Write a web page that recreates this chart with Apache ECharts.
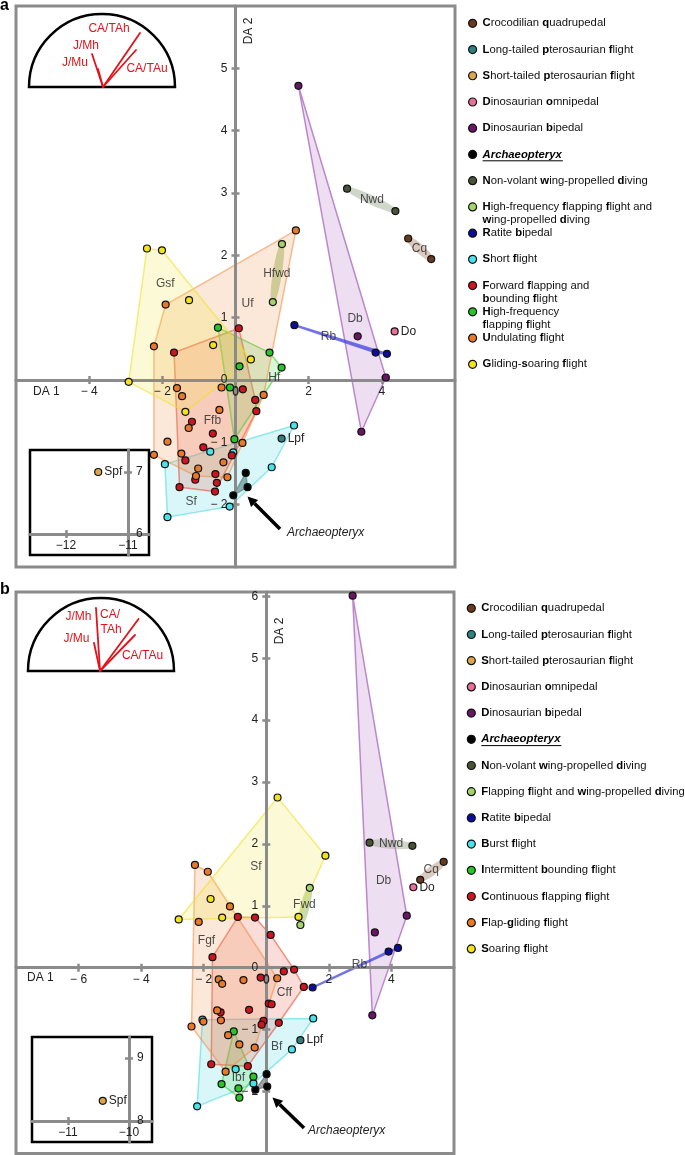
<!DOCTYPE html>
<html><head><meta charset="utf-8"><title>DA plots</title>
<script src="https://cdn.jsdelivr.net/npm/echarts@6/dist/echarts.min.js"></script>
<style>html,body{margin:0;padding:0;background:#fff}#c{width:685px;height:1155px}</style>
</head><body><div id="c"></div>
<script>
const FONT = '"Liberation Sans", Arial, Helvetica, sans-serif';
const GRAY = '#8b8b8b';
const LABEL = '#222';

// ---------- tick labels ----------
const ticksXA = [-4,-2,0,2,4];
const ticksYA = [-2,-1,0,1,2,3,4,5];
const ticksXB = [-6,-4,-2,0,2,4];
const ticksYB = [-2,-1,0,1,2,3,4,5,6];
const ticksInsetXA = [-12,-11], ticksInsetYA = [6,7];
const ticksInsetXB = [-11,-10], ticksInsetYB = [8,9];

// ---------- legend names / texts ----------
const namesA = ['Crocodilian quadrupedal','Long-tailed pterosaurian flight','Short-tailed pterosaurian flight','Dinosaurian omnipedal','Dinosaurian bipedal','Archaeopteryx','Non-volant wing-propelled diving','High-frequency flapping flight and wing-propelled diving','Ratite bipedal','Short flight','Forward flapping and bounding flight','High-frequency flapping flight','Undulating flight','Gliding-soaring flight'];
const legendA = ['*Crocodilian *quadrupedal','*Long-tailed *pterosaurian *flight','*Short-tailed *pterosaurian *flight','*Dinosaurian *omnipedal','*Dinosaurian *bipedal','{i|Archaeopteryx}','*Non-volant *wing-propelled *diving','*High-frequency *flapping *flight and\n*wing-propelled *diving','*Ratite *bipedal','*Short *flight','*Forward *flapping and\n*bounding *flight','*High-frequency\n*flapping *flight','*Undulating *flight','*Gliding-*soaring *flight'];
const abbrA = ['Cq','Lpf','Spf','Do','Db','Arch','Nwd','Hfwd','Rb','Sf','Ffb','Hf','Uf','Gsf'];

const namesB = ['Crocodilian quadrupedal','Long-tailed pterosaurian flight','Short-tailed pterosaurian flight','Dinosaurian omnipedal','Dinosaurian bipedal','Archaeopteryx','Non-volant wing-propelled diving','Flapping flight and wing-propelled diving','Ratite bipedal','Burst flight','Intermittent bounding flight','Continuous flapping flight','Flap-gliding flight','Soaring flight'];
const legendB = ['*Crocodilian *quadrupedal','*Long-tailed *pterosaurian *flight','*Short-tailed *pterosaurian *flight','*Dinosaurian *omnipedal','*Dinosaurian *bipedal','{i|Archaeopteryx}','*Non-volant *wing-propelled *diving','*Flapping *flight and *wing-propelled *diving','*Ratite *bipedal','*Burst *flight','*Intermittent *bounding *flight','*Continuous *flapping *flight','*Flap-*gliding *flight','*Soaring *flight'];
const abbrB = ['Cq','Lpf','Spf','Do','Db','Arch','Nwd','Fwd','Rb','Bf','Ibf','Cff','Fgf','Sf'];

const colorsA = ['#6b3a1e','#2f8080','#dba64c','#e5709a','#6b1567','#000000','#4b5336','#a3d46a','#0c0c9e','#48e2e8','#cd1520','#26c626','#e8792b','#f3e31c'];
const colorsB = ['#6b3a1e','#2f8080','#dba64c','#e5709a','#6b1567','#000000','#4b5336','#a3d46a','#0c0c9e','#48e2e8','#26c626','#cd1520','#e8792b','#f3e31c'];
const hullA = ['#a07a5a',null,null,null,'#a45cb8','#5a6868','#9aa38a','#8fb85a','#3a3ae0','#3fd8e0','#e8503a','#3ad03a','#f08a40','#f0e030'];
const hullB = ['#a07a5a',null,null,null,'#a45cb8','#5a6868','#9aa38a','#8fb85a','#3a3ae0','#3fd8e0','#3ad03a','#e8503a','#f08a40','#f0e030'];
const hullFillAlpha   = [0.4,0,0,0,0.2,0.6,0.45,0.5,0.12,0.2,0.2,0.2,0.2,0.2];
const hullStrokeAlpha = [0,0,0,0,0.7,0.6,0,0,0.7,0.55,0.6,0.6,0.55,0.6];

// ---------- panel a points (DA 1, DA 2) ----------
const a_Cq   = [[4.72,2.27],[5.35,1.94]];
const a_Lpf  = [[1.26,-0.94]];
const a_Spf  = [[-11.48,7.00]];
const a_Do   = [[4.35,0.78]];
const a_Db   = [[1.72,4.72],[3.34,0.70],[4.11,0.04],[3.44,-0.83]];
const a_Arch = [[0.28,-1.49],[0.33,-1.72],[-0.06,-1.85]];
const a_Nwd  = [[3.05,3.07],[4.37,2.71]];
const a_Hfwd = [[1.27,2.18],[1.02,1.25]];
const a_Rb   = [[1.61,0.88],[3.83,0.44],[4.14,0.42]];
const a_Sf   = [[1.60,-0.73],[-0.69,-1.15],[-0.06,-1.16],[-1.93,-1.35],[0.99,-1.40],[-0.16,-2.03],[-1.86,-2.20]];
const a_Ffb  = [[-1.68,0.44],[0.09,0.83],[0.20,-0.15],[0.54,-0.32],[0.57,-0.50],[-1.19,-0.67],[-0.62,-0.86],[-0.88,-1.08],[-0.10,-1.21],[-1.37,-1.29],[-0.55,-1.51],[-1.10,-1.60],[-0.51,-1.65],[-1.53,-1.72],[-0.56,-1.79]];
const a_Hf   = [[-0.48,0.84],[0.93,0.44],[1.26,0.20],[0.11,0.22],[-0.15,-0.12],[-0.03,-0.95]];
const a_Uf   = [[1.65,2.40],[-1.91,1.21],[-2.23,0.54],[-1.60,-0.13],[-1.46,-0.26],[-0.38,-0.12],[0.77,-0.24],[-0.44,-0.48],[-1.28,-0.77],[-1.86,-0.99],[0.19,-1.01],[-2.23,-1.20],[-1.48,-1.18],[-0.33,-1.32],[-1.02,-1.42],[-1.08,-1.54],[-0.22,-1.56]];
const a_Gsf  = [[-2.42,2.11],[-2.01,2.08],[-1.27,1.28],[-0.61,0.56],[0.42,0.33],[-2.92,-0.03],[-1.37,-0.51]];
const groupsA = [a_Cq,a_Lpf,a_Spf,a_Do,a_Db,a_Arch,a_Nwd,a_Hfwd,a_Rb,a_Sf,a_Ffb,a_Hf,a_Uf,a_Gsf];

// ---------- panel b points ----------
const b_Cq   = [[4.92,1.42],[5.67,1.71]];
const b_Lpf  = [[1.09,-1.17]];
const b_Spf  = [[-10.43,8.32]];
const b_Do   = [[4.70,1.30]];
const b_Db   = [[2.76,6.01],[3.47,0.57],[4.49,0.84],[3.39,-0.77]];
const b_Arch = [[0.01,-1.72],[-0.35,-1.97],[0.03,-1.92]];
const b_Nwd  = [[3.30,2.02],[4.67,1.97]];
const b_Fwd  = [[1.39,1.29],[1.09,0.69]];
const b_Rb   = [[1.48,-0.32],[3.91,0.26],[4.21,0.32]];
const b_Bf   = [[-2.04,-0.84],[1.50,-0.82],[0.82,-1.32],[-0.98,-1.64],[-0.41,-1.87],[-2.21,-2.24]];
const b_Ibf  = [[-1.04,-1.03],[-0.41,-1.76],[-1.43,-1.88],[-0.89,-1.95],[-0.86,-2.10]];
const b_Cff  = [[-0.91,0.82],[-0.36,0.81],[0.14,0.53],[-1.72,0.17],[0.89,-0.03],[1.20,-0.31],[-0.18,-0.16],[0.56,-0.06],[0.08,-0.58],[0.17,-0.59],[-1.46,-0.72],[-0.55,-0.68],[-0.09,-0.86],[-0.15,-0.92],[0.40,-0.89],[-1.76,-1.56],[-0.59,-1.59]];
const b_Fgf  = [[-2.28,1.66],[-1.87,1.55],[-1.16,0.99],[-2.16,0.74],[-1.52,-0.19],[-1.41,-0.26],[-0.73,-0.20],[0.35,-0.17],[-1.57,-0.69],[-2.01,-0.87],[-1.45,-0.85],[-2.39,-0.95],[-1.22,-1.09],[-0.86,-1.24],[-0.37,-1.29],[-1.30,-1.68]];
const b_Sf   = [[0.36,2.75],[1.89,1.81],[1.03,0.82],[-2.80,0.78],[-1.78,1.11],[-1.41,0.81]];
const groupsB = [b_Cq,b_Lpf,b_Spf,b_Do,b_Db,b_Arch,b_Nwd,b_Fwd,b_Rb,b_Bf,b_Ibf,b_Cff,b_Fgf,b_Sf];

// ---------- group annotations (label, DA1, DA2) ----------
const annotA = [['Gsf',-1.92,1.54],['Uf',0.33,1.22],['Hfwd',1.13,1.71],['Hf',1.06,0.03],['Ffb',-0.63,-0.65],['Sf',-1.21,-1.95],['Db',3.27,0.99],['Rb',2.54,0.69],['Nwd',3.73,2.90],['Cq',5.03,2.11]];
const annotB = [['Sf',-0.33,1.64],['Fwd',1.22,1.02],['Fgf',-1.91,0.43],['Cff',0.58,-0.40],['Bf',0.33,-1.28],['Ibf',-0.89,-1.78],['Nwd',3.99,2.00],['Cq',5.27,1.59],['Db',3.75,1.40],['Rb',2.98,0.05]];

// ---------- helpers ----------
function rgba(hex, a){ const n=parseInt(hex.slice(1),16); return 'rgba('+(n>>16&255)+','+(n>>8&255)+','+(n&255)+','+a+')'; }
function rich(s){ return s.replace(/\*(.)/g,'{b|$1}'); }
function fmtMain(v){ const r=Math.round(v*100)/100; return r<0 ? '\u2212 '+(-r) : String(r); }
function fmtInset(v){ const r=Math.round(v*100)/100; return r<0 ? '\u2212'+(-r) : String(r); }
function convexHull(P){
  const p=P.slice().sort((a,b)=>a[0]-b[0]||a[1]-b[1]);
  const cr=(o,a,b)=>(a[0]-o[0])*(b[1]-o[1])-(a[1]-o[1])*(b[0]-o[0]);
  const lo=[],up=[];
  for(const q of p){ while(lo.length>=2&&cr(lo[lo.length-2],lo[lo.length-1],q)<=0) lo.pop(); lo.push(q); }
  for(let k=p.length-1;k>=0;k--){ const q=p[k]; while(up.length>=2&&cr(up[up.length-2],up[up.length-1],q)<=0) up.pop(); up.push(q); }
  up.pop(); lo.pop(); return lo.concat(up);
}
function ellipse(p1,p2){
  const cx=(p1[0]+p2[0])/2, cy=(p1[1]+p2[1])/2;
  const dx=p2[0]-p1[0], dy=p2[1]-p1[1], L=Math.sqrt(dx*dx+dy*dy)||1;
  const ux=dx/L, uy=dy/L, a=L/2+3.5, b=4.6, out=[];
  for(let k=0;k<48;k++){ const t=k/48*Math.PI*2; const ca=a*Math.cos(t), sb=b*Math.sin(t);
    out.push([cx+ca*ux-sb*uy, cy+ca*uy+sb*ux]); }
  return out;
}

const axisLineStyle = {color:GRAY, width:3};
const tickStyle = {color:GRAY, width:2.5};
const labelBase = {fontSize:12, color:LABEL, fontFamily:FONT};

const GA = {left:16, top:6, width:439, height:561};
const GB = {left:16, top:592, width:438, height:561.4};

// axes through the origin, placed with offsets derived from the grid box and range
function mainAxes(grid, G, xmin, xmax, ymin, ymax, xt, yt){
  const zx = G.left + G.width*(0-xmin)/(xmax-xmin);
  const zy = G.top + G.height*(ymax-0)/(ymax-ymin);
  const offB = -(G.top+G.height-zy), offT = -(zy-G.top);
  const offL = -(zx-G.left), offR = -(G.left+G.width-zx);
  const xs = [
    {type:'value', gridIndex:grid, min:xmin, max:xmax, position:'bottom', offset:offB, z:2,
     axisLine:{show:true, onZero:false, lineStyle:axisLineStyle},
     axisTick:{show:true, length:4, lineStyle:tickStyle, customValues:xt},
     axisLabel:Object.assign({show:true, margin:6, hideOverlap:false, customValues:xt, formatter:fmtMain}, labelBase),
     splitLine:{show:false}},
    {type:'value', gridIndex:grid, min:xmin, max:xmax, position:'top', offset:offT, z:2,
     axisLine:{show:false, onZero:false},
     axisTick:{show:true, length:4, lineStyle:tickStyle, customValues:xt},
     axisLabel:{show:false}, splitLine:{show:false}}
  ];
  const ys = [
    {type:'value', gridIndex:grid, min:ymin, max:ymax, position:'left', offset:offL, z:2,
     axisLine:{show:true, onZero:false, lineStyle:axisLineStyle},
     axisTick:{show:true, length:4, lineStyle:tickStyle, customValues:yt},
     axisLabel:Object.assign({show:true, margin:8, hideOverlap:false, customValues:yt, formatter:fmtMain}, labelBase),
     splitLine:{show:false}},
    {type:'value', gridIndex:grid, min:ymin, max:ymax, position:'right', offset:offR, z:2,
     axisLine:{show:false, onZero:false},
     axisTick:{show:true, length:4, lineStyle:tickStyle, customValues:yt},
     axisLabel:{show:false}, splitLine:{show:false}}
  ];
  return {xs, ys};
}
function insetAxes(grid, xmin, xmax, ymin, ymax, xt, yt, offB, offT, offR, offL){
  const xs = [
    {type:'value', gridIndex:grid, min:xmin, max:xmax, position:'bottom', offset:offB, z:6,
     axisLine:{show:true, onZero:false, lineStyle:axisLineStyle},
     axisTick:{show:true, length:4, lineStyle:tickStyle, customValues:xt},
     axisLabel:Object.assign({show:true, margin:6, customValues:xt, formatter:fmtInset}, labelBase),
     splitLine:{show:false}},
    {type:'value', gridIndex:grid, min:xmin, max:xmax, position:'top', offset:offT, z:6,
     axisLine:{show:false, onZero:false},
     axisTick:{show:true, length:4, lineStyle:tickStyle, customValues:xt},
     axisLabel:{show:false}, splitLine:{show:false}}
  ];
  const ys = [
    {type:'value', gridIndex:grid, min:ymin, max:ymax, position:'right', offset:offR, z:6,
     axisLine:{show:true, onZero:false, lineStyle:axisLineStyle},
     axisTick:{show:true, length:4, lineStyle:tickStyle, customValues:yt},
     axisLabel:Object.assign({show:true, margin:8, customValues:yt, formatter:fmtInset}, labelBase),
     splitLine:{show:false}},
    {type:'value', gridIndex:grid, min:ymin, max:ymax, position:'left', offset:offL, z:6,
     axisLine:{show:false, onZero:false},
     axisTick:{show:true, length:4, lineStyle:tickStyle, customValues:yt},
     axisLabel:{show:false}, splitLine:{show:false}}
  ];
  return {xs, ys};
}

function hullSeries(groups, hulls, xi, yi, name){
  return {type:'custom', name, xAxisIndex:xi, yAxisIndex:yi, z:1, silent:true,
    data: groups.map(()=>[0,0]),
    renderItem: function(params, api){
      const i = params.dataIndex, g = groups[i];
      if (!hulls[i] || g.length<2) return {type:'group', children:[]};
      const px = g.map(p=>api.coord(p));
      const poly = px.length===2 ? ellipse(px[0],px[1]) : convexHull(px);
      return {type:'polygon', shape:{points:poly},
        style:{fill:rgba(hulls[i],hullFillAlpha[i]),
               stroke:hullStrokeAlpha[i] ? rgba(hulls[i],hullStrokeAlpha[i]) : null,
               lineWidth: i===8 ? 2.2 : 1.5, lineJoin:'round'}};
    }};
}
function pointSeries(groups, names, abbr, colors, xi, yi, ixi, iyi){
  return groups.map((g,i)=>{
    const inset = abbr[i]==='Spf';
    const lab = (abbr[i]==='Lpf'||abbr[i]==='Do'||abbr[i]==='Spf');
    return {type:'scatter', name:names[i], xAxisIndex: inset?ixi:xi, yAxisIndex: inset?iyi:yi,
      z: inset?7:3, silent:true, symbol:'circle', symbolSize:7, data:g,
      itemStyle:{color:colors[i], borderColor:'#111', borderWidth:1.2, opacity:1},
      label: lab ? Object.assign({show:true, position:'right', distance:2, formatter:abbr[i]}, labelBase) : {show:false},
      emphasis:{disabled:true}};
  });
}
function annotSeries(annot, xi, yi){
  return {type:'scatter', name:'group labels', xAxisIndex:xi, yAxisIndex:yi, z:4, silent:true,
    symbolSize:0.1, itemStyle:{color:'rgba(0,0,0,0)'},
    data: annot.map(a=>({name:a[0], value:[a[1],a[2]]})),
    label:Object.assign({show:true, position:'inside', formatter:'{b}'}, labelBase),
    emphasis:{disabled:true}};
}
// the DA 1 tick label "0" (hidden by the axis where the two axes cross), drawn under the origin
function originLabel(xi, yi){
  return {type:'scatter', name:'origin label', xAxisIndex:xi, yAxisIndex:yi, z:4, silent:true,
    symbolSize:0.1, itemStyle:{color:'rgba(0,0,0,0)'},
    data:[[0,0]],
    label:Object.assign({show:true, position:'bottom', distance:7, formatter:'0'}, labelBase),
    emphasis:{disabled:true}};
}
function makeLegends(names, texts, colors, left, c0, step){
  const st = {fontSize:11.3, fontFamily:FONT, color:'#111', lineHeight:13};
  return names.map((n,i)=>{
    const two = texts[i].indexOf('\n')>=0;
    return {
      show:true, left:left, top:c0+i*step-6.5-(two?13:0), orient:'vertical', padding:0, itemGap:0,
      itemWidth:10, itemHeight:8, selectedMode:false, icon:'circle',
      itemStyle:{color:colors[i], borderColor:'#111', borderWidth:1.2},
      data:[ two ? {name:n, textStyle:{padding:[13,0,0,0]}} : {name:n} ],
      formatter: function(){ return rich(texts[i]); },
      textStyle: Object.assign({}, st, {rich:{
        b: Object.assign({}, st, {fontWeight:'bold', color:'#000'}),
        i: Object.assign({}, st, {fontWeight:'bold', fontStyle:'italic', color:'#000'})
      }})
    };
  });
}

// ---------- axes ----------
const AX_a = mainAxes(0, GA, -6, 6, -3, 6, ticksXA, ticksYA);
const AX_b = mainAxes(1, GB, -8, 6, -3, 6.07, ticksXB, ticksYB);
const AX_ia = insetAxes(2, -12.58, -10.661, 5.661, 7.355, ticksInsetXA, ticksInsetYA, -21, -84, -21, -98);
const AX_ib = insetAxes(3, -11.59, -9.623, 7.667, 9.333, ticksInsetXB, ticksInsetYB, -21, -84, -23, -97);

// ---------- decorations ----------
const RED = '#e3121b';
const tf = (s,w,st)=> (st||'normal')+' '+(w||'normal')+' '+s+'px '+FONT;
function txt(x,y,text,opts){ opts=opts||{}; return {type:'text', x, y, z:100, rotation:opts.rot||0,
  style:{text, font:tf(opts.size||12,opts.weight,opts.style), fill:opts.color||LABEL, align:opts.align||'center', verticalAlign:'middle'}}; }
function ln(x1,y1,x2,y2,color,w){ return {type:'line', z:100, shape:{x1,y1,x2,y2}, style:{stroke:color, lineWidth:w, lineCap:'round'}}; }
function semi(cx,cy,r){ return {type:'sector', z:99, shape:{cx,cy,r,r0:0,startAngle:Math.PI,endAngle:Math.PI*2,clockwise:true}, style:{fill:'#fff', stroke:'#000', lineWidth:2.5}}; }
function arrow(tx,ty,hx,hy){
  const dx=hx-tx, dy=hy-ty, L=Math.sqrt(dx*dx+dy*dy), ux=dx/L, uy=dy/L;
  const bx=hx-ux*10, by=hy-uy*10, px=-uy*5, py=ux*5;
  return [ {type:'line', z:100, shape:{x1:tx,y1:ty,x2:bx,y2:by}, style:{stroke:'#000', lineWidth:3.5}},
           {type:'polygon', z:100, shape:{points:[[hx,hy],[bx+px,by+py],[bx-px,by-py]]}, style:{fill:'#000'}} ];
}
const graphics = [
  txt(0,5.5,'a',{size:16,weight:'bold',align:'left',color:'#000'}),
  txt(0,590,'b',{size:16,weight:'bold',align:'left',color:'#000'}),
  semi(102,87,73),
  ln(103,87,92,54,RED,1.8), ln(103,87,98,69,RED,1.8), ln(103,87,140,33,RED,1.8), ln(103,87,136,50,RED,1.8),
  txt(109,29,'CA/TAh',{color:RED}), txt(86,46,'J/Mh',{color:RED}), txt(75,63,'J/Mu',{color:RED}), txt(147,69,'CA/TAu',{color:RED}),
  semi(101,671,73),
  ln(100,671,96,608,RED,1.8), ln(100,671,94,643,RED,1.8), ln(100,671,138.5,619,RED,1.8), ln(100,671,135,635,RED,1.8),
  txt(78.5,617,'J/Mh',{color:RED}), txt(110,615,'CA/',{color:RED}), txt(111,630,'TAh',{color:RED}), txt(76.5,639,'J/Mu',{color:RED}), txt(142.5,656,'CA/TAu',{color:RED}),
  txt(33,392,'DA 1',{align:'left'}), txt(249,31,'DA 2',{rot:Math.PI/2}),
  txt(27,978,'DA 1',{align:'left'}), txt(280,631,'DA 2',{rot:Math.PI/2}),
  ...arrow(280,529,247.5,496.5), txt(287,533,'Archaeopteryx',{style:'italic',align:'left'}),
  ...arrow(304,1128,272.5,1097.5), txt(308,1131,'Archaeopteryx',{style:'italic',align:'left'}),
  ln(483,160.8,562.5,160.8,'#000',1), ln(481.7,745.6,561,745.6,'#000',1)
];

const option = {
  animation:false,
  textStyle:{fontFamily:FONT},
  grid:[
    Object.assign({show:true, borderColor:GRAY, borderWidth:3, backgroundColor:'transparent', outerBoundsMode:'none'}, GA),
    Object.assign({show:true, borderColor:GRAY, borderWidth:3, backgroundColor:'transparent', outerBoundsMode:'none'}, GB),
    {left:30, top:450, width:119, height:105, show:true, borderColor:'#000', borderWidth:2.5, backgroundColor:'#fff', z:5, outerBoundsMode:'none'},
    {left:32, top:1037, width:120, height:105, show:true, borderColor:'#000', borderWidth:2.5, backgroundColor:'#fff', z:5, outerBoundsMode:'none'}
  ],
  xAxis:[...AX_a.xs, ...AX_b.xs, ...AX_ia.xs, ...AX_ib.xs],
  yAxis:[...AX_a.ys, ...AX_b.ys, ...AX_ia.ys, ...AX_ib.ys],
  legend:[...makeLegends(namesA, legendA, colorsA, 468, 23.3, 26.23), ...makeLegends(namesB, legendB, colorsB, 466.7, 608.3, 26.2)],
  series:[
    hullSeries(groupsA, hullA, 0, 0, 'hulls a'),
    ...pointSeries(groupsA, namesA, abbrA, colorsA, 0, 0, 4, 4),
    annotSeries(annotA, 0, 0),
    originLabel(0, 0),
    hullSeries(groupsB, hullB, 2, 2, 'hulls b'),
    ...pointSeries(groupsB, namesB, abbrB, colorsB, 2, 2, 6, 6),
    annotSeries(annotB, 2, 2),
    originLabel(2, 2)
  ],
  graphic:{elements:graphics}
};
const chart = echarts.init(document.getElementById('c'));
chart.setOption(option);
</script></body></html>
